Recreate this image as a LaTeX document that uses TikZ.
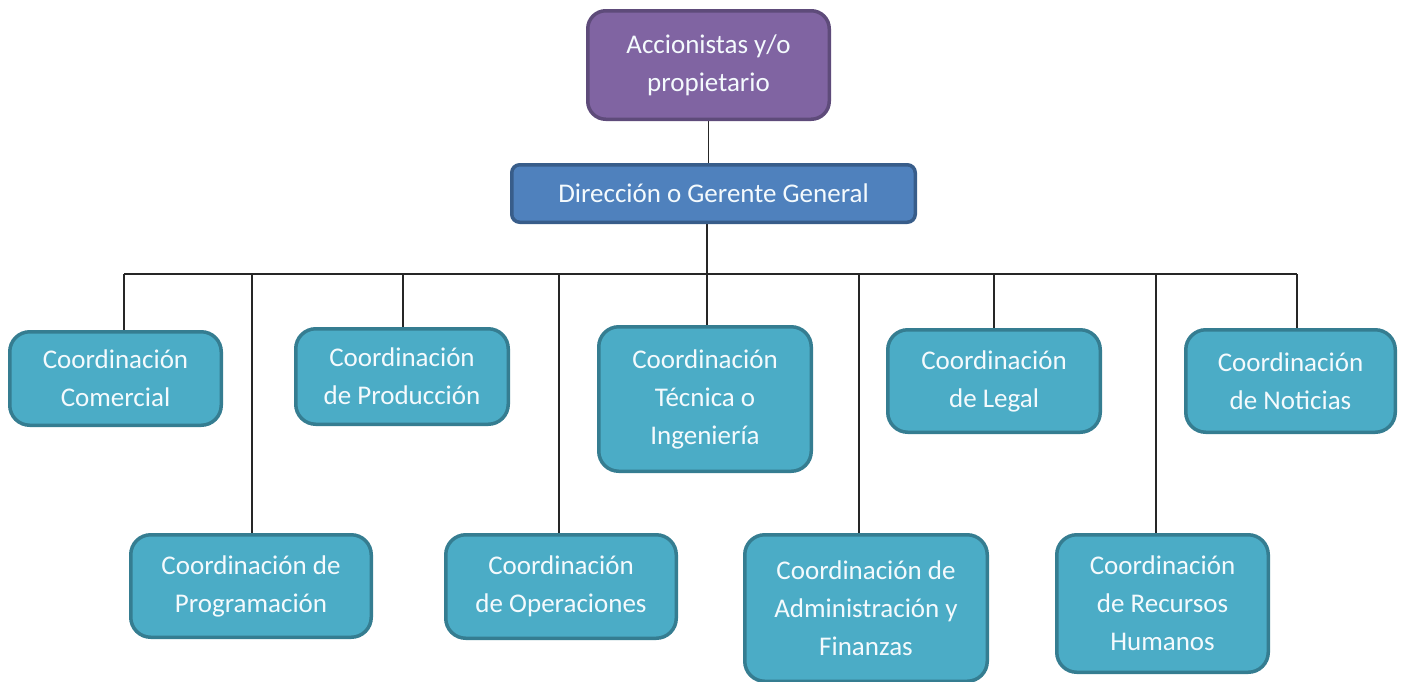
\documentclass[tikz,border=0pt]{standalone}
\usepackage{fontspec}
\setmainfont{Carlito}
\usetikzlibrary{backgrounds}
\definecolor{tealfill}{HTML}{4BACC6}
\definecolor{tealline}{HTML}{357D91}
\definecolor{purfill}{HTML}{8064A2}
\definecolor{purline}{HTML}{5E4B7A}
\definecolor{bluefill}{HTML}{4F81BD}
\definecolor{blueline}{HTML}{385D8A}
\definecolor{txt}{HTML}{F4FAFD}
\tikzset{
  basebox/.style={rectangle, line width=3.5pt, inner sep=0pt, align=center,
    text=txt, font=\fontsize{27}{38}\selectfont},
  tealbox/.style={basebox, fill=tealfill, draw=tealline, rounded corners=20pt},
  purbox/.style={basebox, fill=purfill, draw=purline, rounded corners=18pt},
  bluebox/.style={basebox, fill=bluefill, draw=blueline, rounded corners=8pt},
  conn/.style={line width=1.8pt, draw=black!85}
}
\begin{document}
\begin{tikzpicture}[x=1pt, y=-1pt]
\clip (0,0) rectangle (1407,681);
% top
\node[purbox, minimum width=241.5pt, minimum height=108.5pt] (acc) at (708.5,65) {Accionistas y/o\\propietario};
\node[bluebox, minimum width=403.5pt, minimum height=57.5pt] (dir) at (713.5,193.5) {Dirección o Gerente General};
% first row
\node[tealbox, minimum width=211.5pt, minimum height=93.5pt] (com) at (115.5,378.5) {Coordinación\\Comercial};
\node[tealbox, minimum width=212.5pt, minimum height=95.5pt] (pro) at (402,376.5) {Coordinación\\de Producción};
\node[tealbox, minimum width=212.5pt, minimum height=144.5pt] (tec) at (705,399) {Coordinación\\Técnica o\\Ingeniería};
\node[tealbox, minimum width=212.5pt, minimum height=102.5pt] (leg) at (994,381) {Coordinación\\de Legal};
\node[tealbox, minimum width=209.5pt, minimum height=102.5pt] (not) at (1290.5,381) {Coordinación\\de Noticias};
% second row
\node[tealbox, minimum width=240.5pt, minimum height=102.5pt] (prg) at (251,586) {Coordinación de\\Programación};
\node[tealbox, minimum width=230.5pt, minimum height=103.5pt] (ope) at (561,586.5) {Coordinación\\de Operaciones};
\node[tealbox, minimum width=242.5pt, minimum height=146.5pt] (adm) at (866,608) {Coordinación de\\Administración y\\Finanzas};
\node[tealbox, minimum width=211.5pt, minimum height=137.5pt] (rrh) at (1162.5,603.5) {Coordinación\\de Recursos\\Humanos};
% bus coordinates
\coordinate (bus) at (707,274);
\coordinate (b1) at (124,274);
\coordinate (b2) at (252,274);
\coordinate (b3) at (403,274);
\coordinate (b4) at (559,274);
\coordinate (b5) at (859,274);
\coordinate (b6) at (994,274);
\coordinate (b7) at (1156,274);
\coordinate (b8) at (1297,274);
\begin{scope}[on background layer]
\draw[conn] (acc.south) -- (acc.south |- dir.north);
\draw[conn] (dir.south -| bus) -- (bus);
\draw[conn] (b1) -- (b8);
\draw[conn] (b1) -- (b1 |- com.north);
\draw[conn] (b2) -- (b2 |- prg.north);
\draw[conn] (b3) -- (b3 |- pro.north);
\draw[conn] (b4) -- (b4 |- ope.north);
\draw[conn] (bus) -- (bus |- tec.north);
\draw[conn] (b5) -- (b5 |- adm.north);
\draw[conn] (b6) -- (b6 |- leg.north);
\draw[conn] (b7) -- (b7 |- rrh.north);
\draw[conn] (b8) -- (b8 |- not.north);
\end{scope}
\end{tikzpicture}
\end{document}
